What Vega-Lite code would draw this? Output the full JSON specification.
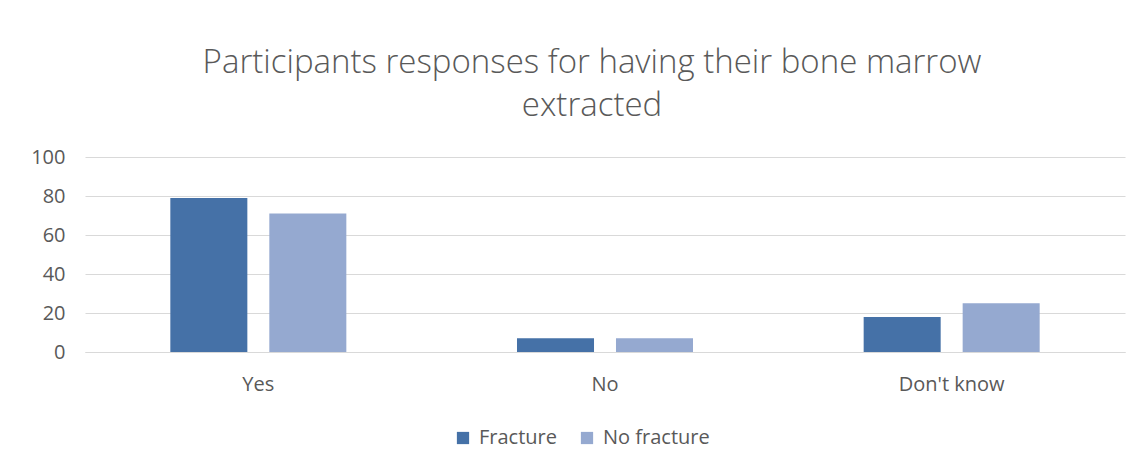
{
  "$schema": "https://vega.github.io/schema/vega-lite/v6.json",
  "width": 1040,
  "height": 195,
  "autosize": {"type": "none"},
  "padding": {"left": 85, "top": 157, "right": 17, "bottom": 118},
  "background": "white",
  "title": {
    "text": ["Participants responses for having their bone marrow", "extracted"],
    "font": "Open Sans",
    "fontSize": 33,
    "fontWeight": 300,
    "color": "#595959",
    "lineHeight": 43,
    "anchor": "middle",
    "dx": -13,
    "offset": 24
  },
  "data": {
    "values": [
      {"response": "Yes", "group": "Fracture", "percent": 79},
      {"response": "Yes", "group": "No fracture", "percent": 71},
      {"response": "No", "group": "Fracture", "percent": 7},
      {"response": "No", "group": "No fracture", "percent": 7},
      {"response": "Don't know", "group": "Fracture", "percent": 18},
      {"response": "Don't know", "group": "No fracture", "percent": 25}
    ]
  },
  "mark": {"type": "bar"},
  "encoding": {
    "x": {
      "field": "response",
      "type": "nominal",
      "sort": ["Yes", "No", "Don't know"],
      "scale": {"paddingInner": 0, "paddingOuter": 0},
      "axis": {
        "title": null,
        "labelAngle": 0,
        "labelFont": "Open Sans",
        "labelFontSize": 20,
        "labelColor": "#595959",
        "labelPadding": 22,
        "ticks": false,
        "domainColor": "#d9d9d9",
        "domainWidth": 1
      }
    },
    "xOffset": {
      "field": "group",
      "type": "nominal",
      "scale": {"paddingInner": 0.222, "paddingOuter": 0.862}
    },
    "y": {
      "field": "percent",
      "type": "quantitative",
      "scale": {"domain": [0, 100]},
      "axis": {
        "title": null,
        "values": [0, 20, 40, 60, 80, 100],
        "domain": false,
        "ticks": false,
        "labelFont": "Open Sans",
        "labelFontSize": 20,
        "labelColor": "#595959",
        "labelPadding": 20,
        "gridColor": "#d9d9d9",
        "gridWidth": 1
      }
    },
    "color": {
      "field": "group",
      "type": "nominal",
      "scale": {"domain": ["Fracture", "No fracture"], "range": ["#4571a7", "#95a9d0"]},
      "legend": {
        "title": null,
        "orient": "none",
        "direction": "horizontal",
        "legendX": 368,
        "legendY": 271,
        "symbolType": "square",
        "symbolSize": 150,
        "symbolStrokeWidth": 0,
        "symbolOpacity": 1,
        "labelFont": "Open Sans",
        "labelFontSize": 20,
        "labelColor": "#595959",
        "labelOffset": 6,
        "columnPadding": 20
      }
    }
  },
  "config": {
    "view": {"stroke": null}
  }
}
